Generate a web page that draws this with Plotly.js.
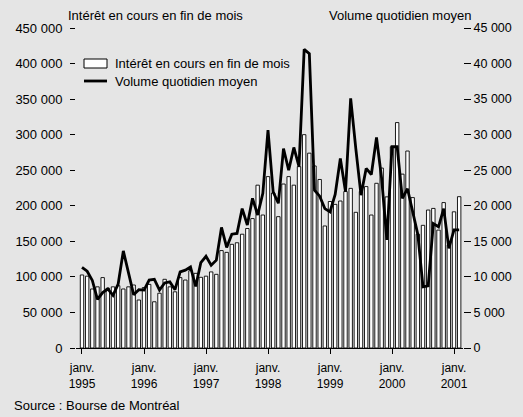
<!DOCTYPE html>
<html>
<head>
<meta charset="utf-8">
<script src="https://cdn.plot.ly/plotly-3.0.1.min.js"></script>
<style>
  html, body { margin: 0; padding: 0; background: #e5e5e5; }
  #chart { width: 523px; height: 417px; }
</style>
</head>
<body>
<div id="chart"></div>
<script>
// Months: January 1995 to February 2001
const startYear = 1995;
const monthCount = 74;
const months = [];
for (let i = 0; i < monthCount; i++) {
  const y = startYear + Math.floor(i / 12);
  const m = (i % 12) + 1;
  months.push(y + '-' + (m < 10 ? '0' + m : m));
}

// Tick labels (January of each year)
const tickMonths = ['1995-01', '1996-01', '1997-01', '1998-01', '1999-01', '2000-01', '2001-01'];
const tickLabels = ['janv.<br>1995', 'janv.<br>1996', 'janv.<br>1997', 'janv.<br>1998', 'janv.<br>1999', 'janv.<br>2000', 'janv.<br>2001'];

// Open interest at month end (left axis)
const openInterest = [
  102700, 101000, 83000, 86000, 99000, 84000, 86000, 87600, 83000, 86000, 88600, 67500,
  85000, 89500, 65000, 77000, 96600, 86000, 79000, 99000, 95600, 108700, 105000, 99400,
  101000, 107000, 103600, 137000, 134500, 145800, 148000, 160000, 168000, 182000, 229000, 187000,
  241000, 218000, 184700, 230600, 241000, 229000, 255000, 300000, 274000, 256000, 237000, 171600,
  206000, 202000, 206700, 220000, 224500, 190800, 220000, 227000, 187000, 231600, 253000, 212500,
  283000, 317000, 244500, 277000, 211500, 160000, 172500, 194000, 196300, 165800, 204500, 145000,
  191500, 212800
];

// Average daily volume (right axis)
const dailyVolume = [
  11350, 10800, 9500, 6850, 7800, 8300, 7400, 9000, 13650, 10400, 7500, 8200,
  8150, 9550, 9650, 8150, 9150, 9300, 8200, 10700, 10950, 11400, 8650, 12000,
  12900, 11650, 12350, 16950, 14150, 16000, 16100, 19600, 17300, 21050, 18700, 21750,
  30650, 21950, 20350, 28050, 25000, 28200, 25500, 42000, 41400, 22200, 21350, 19600,
  19150, 21600, 26650, 22000, 35100, 28000, 21500, 25250, 24400, 29600, 23800, 15200,
  28300, 28300, 21050, 22400, 19400, 15950, 8600, 8750, 17500, 17050, 19600, 14000,
  16600, 16600
];

const seriesNames = ['Intérêt en cours en fin de mois', 'Volume quotidien moyen'];
const axisTitles = ['Intérêt en cours en fin de mois', 'Volume quotidien moyen'];
const sourceText = 'Source : Bourse de Montréal';

const FONT = 'Liberation Sans, Arial, Helvetica, sans-serif';

const traces = [
  {
    type: 'bar',
    name: seriesNames[0],
    x: months,
    y: openInterest,
    width: 0.66,
    marker: { color: '#ffffff', line: { color: '#000000', width: 0.9 } },
    yaxis: 'y',
    showlegend: false,
    hoverinfo: 'skip'
  },
  {
    type: 'scatter',
    mode: 'lines',
    name: seriesNames[1],
    x: months,
    y: dailyVolume,
    line: { color: '#000000', width: 2.8 },
    yaxis: 'y2',
    showlegend: false,
    hoverinfo: 'skip'
  }
];

// pixel helpers for decorations (paper coordinates)
const L = 76, R = 60, T = 28, B = 69, W = 523, H = 417;
const pw = W - L - R, ph = H - T - B;
const px = v => (v - L) / pw;
const py = v => (H - B - v) / ph;

const layout = {
  width: W,
  height: H,
  paper_bgcolor: '#e5e5e5',
  plot_bgcolor: '#e5e5e5',
  margin: { l: L, r: R, t: T, b: B, pad: 0 },
  separators: ', ',
  font: { family: FONT, size: 13, color: '#000000' },
  bargap: 0,
  showlegend: false,
  xaxis: {
    type: 'category',
    categoryorder: 'array',
    categoryarray: months,
    range: [-1.16, 73.74],
    showgrid: false,
    zeroline: false,
    showline: true,
    linecolor: '#000000',
    linewidth: 1,
    ticks: 'outside',
    ticklen: 5,
    tickwidth: 1,
    tickcolor: '#000000',
    tickmode: 'array',
    tickvals: tickMonths,
    ticktext: tickLabels,
    tickangle: 0,
    tickfont: { family: FONT, size: 12, color: '#000000' },
    ticklabelstandoff: 4,
    fixedrange: true
  },
  yaxis: {
    range: [0, 450000],
    tickmode: 'linear',
    tick0: 0,
    dtick: 50000,
    tickformat: ',d',
    showgrid: false,
    zeroline: false,
    showline: false,
    ticks: 'outside',
    ticklen: 5,
    tickwidth: 1,
    tickcolor: '#000000',
    ticklabelstandoff: 5,
    tickfont: { family: FONT, size: 13, color: '#000000' },
    fixedrange: true
  },
  yaxis2: {
    overlaying: 'y',
    side: 'right',
    range: [0, 45000],
    tickmode: 'linear',
    tick0: 0,
    dtick: 5000,
    tickformat: ',d',
    showgrid: false,
    zeroline: false,
    showline: false,
    ticks: 'outside',
    ticklen: 7,
    tickwidth: 1,
    tickcolor: '#000000',
    ticklabelstandoff: 0,
    tickfont: { family: FONT, size: 12.5, color: '#000000' },
    fixedrange: true
  },
  shapes: [
    { type: 'rect', xref: 'paper', yref: 'paper',
      x0: px(84), x1: px(107), y0: py(68), y1: py(59),
      fillcolor: '#ffffff', line: { color: '#000000', width: 1 } },
    { type: 'line', xref: 'paper', yref: 'paper',
      x0: px(84), x1: px(107), y0: py(81), y1: py(81),
      line: { color: '#000000', width: 2.8 } }
  ],
  annotations: [
    { xref: 'paper', yref: 'paper', x: px(113), y: py(63.5), xanchor: 'left', yanchor: 'middle',
      text: seriesNames[0], showarrow: false, font: { family: FONT, size: 13, color: '#000' } },
    { xref: 'paper', yref: 'paper', x: px(113), y: py(81), xanchor: 'left', yanchor: 'middle',
      text: seriesNames[1], showarrow: false, font: { family: FONT, size: 13, color: '#000' } },
    { xref: 'paper', yref: 'paper', x: px(66), y: py(15), xanchor: 'left', yanchor: 'middle',
      text: axisTitles[0], showarrow: false, font: { family: FONT, size: 13, color: '#000' } },
    { xref: 'paper', yref: 'paper', x: px(473), y: py(15), xanchor: 'right', yanchor: 'middle',
      text: axisTitles[1], showarrow: false, font: { family: FONT, size: 13, color: '#000' } },
    { xref: 'paper', yref: 'paper', x: px(12), y: py(405), xanchor: 'left', yanchor: 'middle',
      text: sourceText, showarrow: false, font: { family: FONT, size: 13, color: '#000' } }
  ]
};

Plotly.newPlot('chart', traces, layout, { staticPlot: true, displayModeBar: false });
</script>
</body>
</html>
